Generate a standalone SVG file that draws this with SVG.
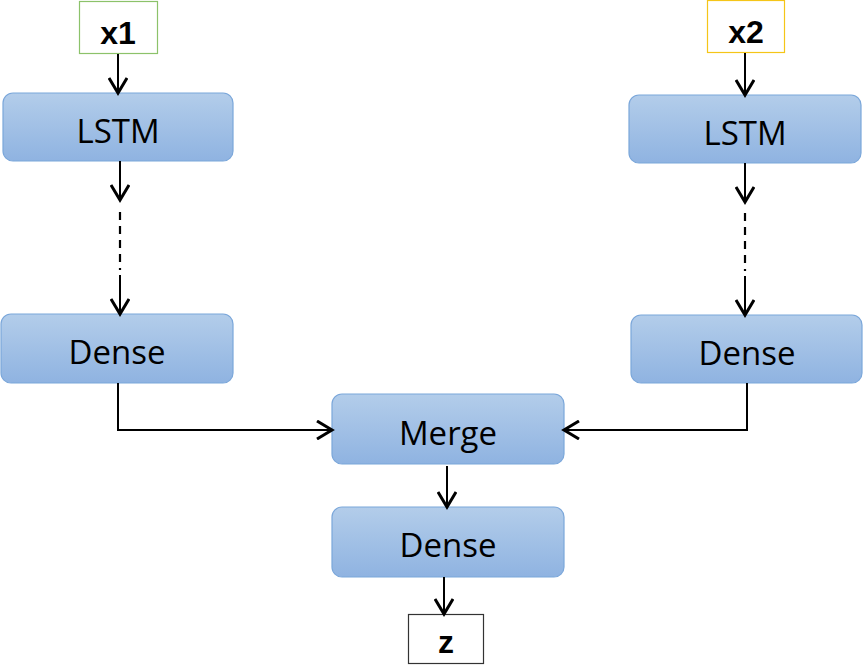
<svg xmlns="http://www.w3.org/2000/svg" width="864" height="670" viewBox="0 0 864 670">
<defs>
<linearGradient id="g" x1="0" y1="0" x2="0" y2="1">
<stop offset="0" stop-color="#b3cdea"/>
<stop offset="1" stop-color="#8fb3e1"/>
</linearGradient>
<marker id="ah" viewBox="0 0 20 20" refX="17" refY="10" markerWidth="20" markerHeight="20" markerUnits="userSpaceOnUse" orient="auto">
<path d="M2,1 L17,10 L2,19" fill="none" stroke="#000" stroke-width="3"/>
</marker>
<style>
.blk{fill:url(#g);stroke:#7ba7da;stroke-width:1.2}
.lbl{font-family:"Open Sans","Liberation Sans",sans-serif;font-size:33px;fill:#000;text-anchor:middle}
.io{font-family:"Liberation Sans",sans-serif;font-size:32px;font-weight:bold;fill:#000;text-anchor:middle}
.c{fill:none;stroke:#000;stroke-width:2}
.d{fill:none;stroke:#000;stroke-width:2.2;stroke-dasharray:8,6}
</style>
</defs>
<rect width="864" height="670" fill="#fff"/>
<g id="x1"><rect x="79.5" y="1.5" width="78" height="52" fill="#fff" stroke="#8cc26a" stroke-width="1.2"/><text class="io" x="118" y="44">x1</text></g>
<g id="x2"><rect x="707.5" y="0.5" width="77" height="52" fill="#fff" stroke="#f5c518" stroke-width="1.2"/><text class="io" x="746" y="43">x2</text></g>
<g id="lstm1"><rect class="blk" x="3" y="93" width="230" height="68" rx="10"/><text class="lbl" x="118" y="143">LSTM</text></g>
<g id="lstm2"><rect class="blk" x="629" y="95" width="232" height="68" rx="10"/><text class="lbl" x="745" y="145">LSTM</text></g>
<g id="dense1"><rect class="blk" x="1" y="314" width="232" height="69" rx="10"/><text class="lbl" x="117" y="364">Dense</text></g>
<g id="dense2"><rect class="blk" x="631" y="315" width="231" height="68" rx="10"/><text class="lbl" x="747" y="365">Dense</text></g>
<g id="merge"><rect class="blk" x="332" y="394" width="232" height="70" rx="10"/><text class="lbl" x="448" y="445">Merge</text></g>
<g id="dense3"><rect class="blk" x="332" y="507" width="232" height="70" rx="10"/><text class="lbl" x="448" y="557">Dense</text></g>
<g id="z"><rect x="408.5" y="614.5" width="75" height="49" fill="#fff" stroke="#333" stroke-width="1.2"/><text class="io" x="446" y="653">z</text></g>
<g id="connectors">
<line class="c" x1="118" y1="54" x2="118" y2="93" marker-end="url(#ah)"/>
<line class="c" x1="745" y1="53" x2="745" y2="95" marker-end="url(#ah)"/>
<line class="c" x1="120" y1="161" x2="120" y2="200" marker-end="url(#ah)"/>
<line class="d" x1="120" y1="212" x2="120" y2="270"/>
<line class="c" x1="120" y1="275" x2="120" y2="314" marker-end="url(#ah)"/>
<line class="c" x1="745" y1="163" x2="745" y2="202" marker-end="url(#ah)"/>
<line class="d" x1="745" y1="213" x2="745" y2="271"/>
<line class="c" x1="745" y1="276" x2="745" y2="315" marker-end="url(#ah)"/>
<polyline class="c" points="118,383 118,430 332,430" marker-end="url(#ah)"/>
<polyline class="c" points="747,383 747,430 564,430" marker-end="url(#ah)"/>
<line class="c" x1="447" y1="466" x2="447" y2="507" marker-end="url(#ah)"/>
<line class="c" x1="444" y1="577" x2="444" y2="614" marker-end="url(#ah)"/>
</g>
</svg>
